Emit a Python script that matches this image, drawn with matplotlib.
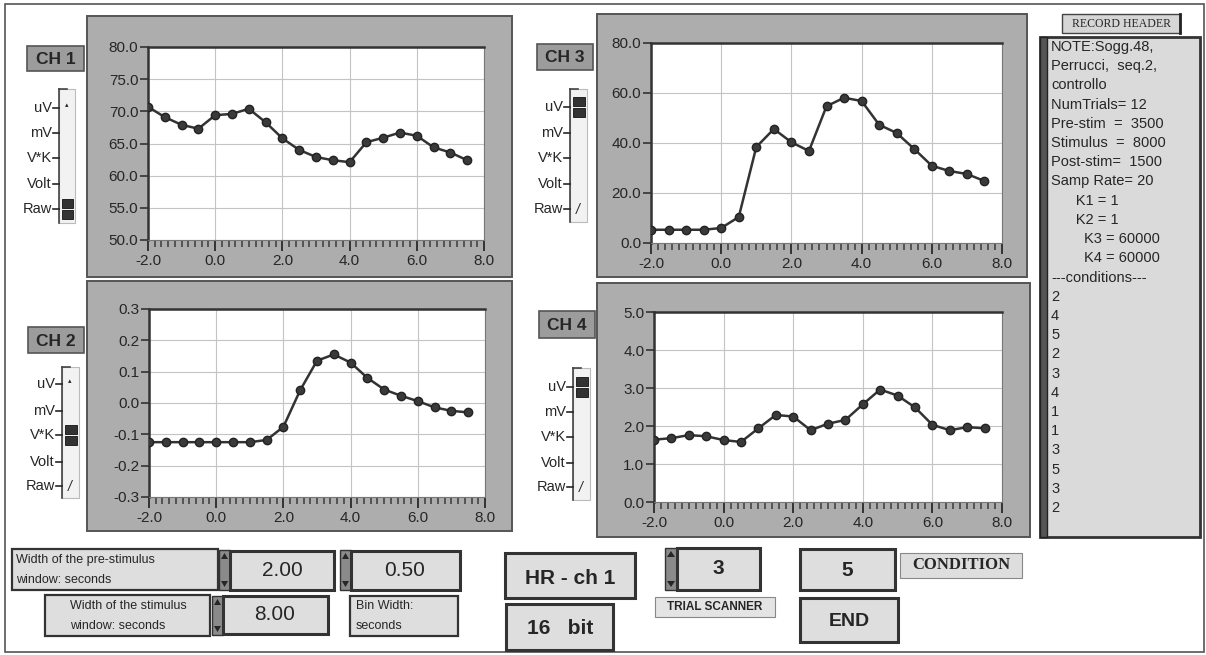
"""Acquisition front panel: four channel traces + record header + controls."""

import matplotlib
matplotlib.use("Agg")
import matplotlib.pyplot as plt  # noqa: E402
from matplotlib.patches import Rectangle, Polygon  # noqa: E402

W, H = 1206, 655
INK = "#262626"
PANEL = "#adadad"
BOX = "#dedede"
plt.rcParams.update({"font.family": ["Liberation Sans", "DejaVu Sans"],
                     "text.color": INK})

# ---- data ----
time_s = [-2.0, -1.5, -1.0, -0.5, 0.0, 0.5, 1.0, 1.5, 2.0, 2.5,
          3.0, 3.5, 4.0, 4.5, 5.0, 5.5, 6.0, 6.5, 7.0, 7.5]
ch1 = [70.7, 69.1, 67.9, 67.3, 69.4, 69.6, 70.4, 68.3, 65.8, 64.0,
       62.9, 62.4, 62.1, 65.2, 65.9, 66.7, 66.2, 64.4, 63.6, 62.4]
ch2 = [-0.125, -0.125, -0.125, -0.125, -0.125, -0.125, -0.125, -0.118, -0.076, 0.041,
       0.135, 0.155, 0.129, 0.080, 0.043, 0.023, 0.006, -0.014, -0.025, -0.030]
ch3 = [5.3, 5.3, 5.3, 5.3, 6.0, 10.4, 38.4, 45.6, 40.3, 36.8,
       54.7, 58.1, 56.8, 47.3, 44.0, 37.6, 30.9, 28.8, 27.6, 24.8]
ch4 = [1.64, 1.68, 1.76, 1.73, 1.63, 1.58, 1.94, 2.29, 2.25, 1.89,
       2.06, 2.16, 2.57, 2.96, 2.80, 2.49, 2.03, 1.89, 1.97, 1.94]

x_ticks = [-2.0, 0.0, 2.0, 4.0, 6.0, 8.0]
ch1_yticks = [50.0, 55.0, 60.0, 65.0, 70.0, 75.0, 80.0]
ch2_yticks = [-0.3, -0.2, -0.1, 0.0, 0.1, 0.2, 0.3]
ch3_yticks = [0.0, 20.0, 40.0, 60.0, 80.0]
ch4_yticks = [0.0, 1.0, 2.0, 3.0, 4.0, 5.0]
ch_names = ["CH 1", "CH 2", "CH 3", "CH 4"]
unit_names = ["uV", "mV", "V*K", "Volt", "Raw"]
unit_selected = ["Raw", "V*K", "uV", "uV"]

header_lines = ["NOTE:Sogg.48,", "Perrucci,  seq.2,", "controllo",
                "NumTrials= 12", "Pre-stim  =  3500", "Stimulus  =  8000",
                "Post-stim=  1500", "Samp Rate= 20", "      K1 = 1",
                "      K2 = 1", "        K3 = 60000", "        K4 = 60000",
                "---conditions---"]
conditions = ["2", "4", "5", "2", "3", "4", "1", "1", "3", "5", "3", "2"]

pre_window, bin_width, stim_window = "2.00", "0.50", "8.00"
trial, condition = "3", "5"


def fig_rect(x0, y0, x1, y1):
    return [x0 / W, 1 - y1 / H, (x1 - x0) / W, (y1 - y0) / H]


fig = plt.figure(figsize=(W / 100, H / 100), dpi=100)
bg = fig.add_axes([0, 0, 1, 1])
bg.set_xlim(0, W); bg.set_ylim(H, 0); bg.axis("off")

# outer frame
bg.add_patch(Rectangle((5, 4), 1199, 648, fill=False, ec="#555", lw=1.2))


def box(x0, y0, x1, y1, fc=BOX, lw=1.6, ec="#333"):
    bg.add_patch(Rectangle((x0, y0), x1 - x0, y1 - y0, fc=fc, ec=ec, lw=lw))


def spinner(x0, y0, x1, y1):
    box(x0, y0, x1, y1, fc="#8a8a8a", lw=1)
    xm = (x0 + x1) / 2
    bg.add_patch(Polygon([(x0 + 2, y0 + 9), (x1 - 2, y0 + 9), (xm, y0 + 3)],
                         fc=INK))
    bg.add_patch(Polygon([(x0 + 2, y1 - 9), (x1 - 2, y1 - 9), (xm, y1 - 3)],
                         fc=INK))


# (panel rect, plot rect, label rect, selector rect, unit label ys)
layout = [
    ((87, 16, 512, 277), (148, 47, 484, 240), (27, 46, 84, 71),
     (59, 89, 75, 223), [108, 133, 158, 184, 209]),
    ((87, 281, 512, 531), (149, 309, 485, 497), (28, 327, 84, 353),
     (62, 367, 79, 498), [384, 411, 435, 462, 486]),
    ((597, 14, 1027, 277), (651, 43, 1002, 243), (537, 44, 593, 70),
     (570, 89, 587, 222), [107, 133, 158, 184, 209]),
    ((597, 283, 1030, 537), (654, 312, 1002, 502), (539, 311, 595, 338),
     (573, 368, 590, 500), [387, 412, 437, 463, 487]),
]
series = [ch1, ch2, ch3, ch4]
yticks = [ch1_yticks, ch2_yticks, ch3_yticks, ch4_yticks]

for i, (panel, plot, lab, sel, uys) in enumerate(layout):
    px0, py0, px1, py1 = panel
    box(px0, py0, px1, py1, fc=PANEL, lw=1.4, ec="#555")
    # channel label
    lx0, ly0, lx1, ly1 = lab
    box(lx0, ly0, lx1, ly1, fc="#9c9c9c", lw=1.2, ec="#555")
    bg.text((lx0 + lx1) / 2, (ly0 + ly1) / 2 + 1, ch_names[i], ha="center",
            va="center", fontsize=12.5, fontweight="bold")
    # unit selector
    sx0, sy0, sx1, sy1 = sel
    bg.add_patch(Rectangle((sx0, sy0), sx1 - sx0, sy1 - sy0, fc="#f2f2f2",
                           ec="#bbb", lw=0.8))
    bg.plot([sx0, sx0], [sy0, sy1], color="#444", lw=1.2)
    bg.plot([sx0, sx0 + 8], [sy0, sy0], color="#444", lw=1.2)
    for name, uy in zip(unit_names, uys):
        bg.plot([sx0 - 6, sx0], [uy, uy], color=INK, lw=1.2)
        bg.text(sx0 - 7, uy, name, ha="right", va="center", fontsize=10.5)
        if name == unit_selected[i]:
            bg.add_patch(Rectangle((sx0 + 3, uy - 10), sx1 - sx0 - 5, 9,
                                   fc="#333", ec="#111", lw=0.6))
            bg.add_patch(Rectangle((sx0 + 3, uy + 1), sx1 - sx0 - 5, 9,
                                   fc="#333", ec="#111", lw=0.6))
        elif name == "Raw":
            bg.text(sx0 + 8, uy + 1, "/", ha="center", va="center",
                    fontsize=10, style="italic")
        elif name == "uV":
            bg.text(sx0 + 8, uy - 2, "\u25b4", ha="center", va="center",
                    fontsize=5)

    ax = fig.add_axes(fig_rect(*plot))
    ax.set_facecolor("white")
    ax.plot(time_s, series[i], color="#333", lw=1.8, marker="o", ms=6,
            mfc="#3a3a3a", mec="#222", zorder=3)
    ax.set_xlim(-2, 8)
    ax.set_ylim(yticks[i][0], yticks[i][-1])
    ax.set_xticks(x_ticks)
    ax.set_xticklabels(["{:.1f}".format(v) for v in x_ticks])
    ax.set_xticks([v / 5 for v in range(-10, 41)], minor=True)
    ax.set_yticks(yticks[i])
    ax.set_yticklabels(["{:.1f}".format(v) for v in yticks[i]])
    ax.grid(True, which="major", color="#c4c4c4", lw=0.8)
    ax.tick_params(axis="x", which="major", length=8, width=1.4,
                   color="#333", labelsize=11, labelcolor=INK, pad=2)
    ax.tick_params(axis="x", which="minor", length=5, width=1.2,
                   color="#444")
    ax.tick_params(axis="y", length=6, width=1.2, color="#333",
                   labelsize=11, labelcolor=INK, pad=1)
    for s in ("left", "top"):
        ax.spines[s].set_linewidth(1.8); ax.spines[s].set_color("#333")
    for s in ("bottom", "right"):
        ax.spines[s].set_linewidth(0.8); ax.spines[s].set_color("#777")

# record header
box(1062, 14, 1180, 33, fc="#d6d6d6", lw=1, ec="#444")
bg.plot([1180, 1180], [14, 33], color="#222", lw=2)
bg.text(1121, 24, "RECORD HEADER", ha="center", va="center", fontsize=8.5,
        family="Liberation Serif")
box(1040, 37, 1200, 537, fc="#dadada", lw=2, ec="#333")
bg.add_patch(Rectangle((1040, 37), 7, 500, fc="#555", ec="#222", lw=1))
lines = header_lines + conditions
step = (508 - 47) / (len(lines) - 1)
for k, line in enumerate(lines):
    bg.text(1051, 47 + k * step, line, ha="left", va="center", fontsize=10.5)

# bottom controls
box(12, 549, 218, 590)
bg.text(16, 560, "Width of the pre-stimulus", fontsize=9, va="center")
bg.text(16, 580, "window: seconds", fontsize=9, va="center")
spinner(219, 550, 230, 590)
box(230, 551, 334, 590, lw=2.2)
bg.text(282, 571, pre_window, ha="center", va="center", fontsize=15)
spinner(340, 550, 351, 590)
box(351, 551, 460, 590, lw=2.2)
bg.text(405, 571, bin_width, ha="center", va="center", fontsize=15)

box(45, 595, 210, 636)
bg.text(70, 606, "Width of the stimulus", fontsize=9, va="center")
bg.text(70, 626, "window: seconds", fontsize=9, va="center")
spinner(212, 596, 223, 635)
box(223, 596, 328, 634, lw=2.2)
bg.text(275, 615, stim_window, ha="center", va="center", fontsize=15)
box(350, 596, 458, 636)
bg.text(356, 606, "Bin Width:", fontsize=9, va="center")
bg.text(356, 626, "seconds", fontsize=9, va="center")

box(505, 553, 635, 598, lw=2.2)
bg.text(570, 578, "HR - ch 1", ha="center", va="center", fontsize=15,
        fontweight="bold")
box(506, 604, 613, 650, lw=2.2)
bg.text(560, 628, "16   bit", ha="center", va="center", fontsize=15,
        fontweight="bold")

spinner(665, 548, 677, 590)
box(677, 548, 760, 590, lw=2.2)
bg.text(718, 568, trial, ha="center", va="center", fontsize=15,
        fontweight="bold")
box(655, 597, 775, 617, fc="#e4e4e4", lw=0.8, ec="#888")
bg.text(715, 607, "TRIAL SCANNER", ha="center", va="center", fontsize=8.5,
        fontweight="bold")

box(800, 549, 895, 590, lw=2.2)
bg.text(847, 570, condition, ha="center", va="center", fontsize=15,
        fontweight="bold")
box(900, 553, 1022, 578, lw=0.8, ec="#888")
bg.text(961, 565, "CONDITION", ha="center", va="center", fontsize=12,
        fontweight="bold", family="Liberation Serif")
box(800, 598, 898, 642, lw=2.2)
bg.text(849, 622, "END", ha="center", va="center", fontsize=14,
        fontweight="bold")

fig.savefig("out.png", dpi=100)
